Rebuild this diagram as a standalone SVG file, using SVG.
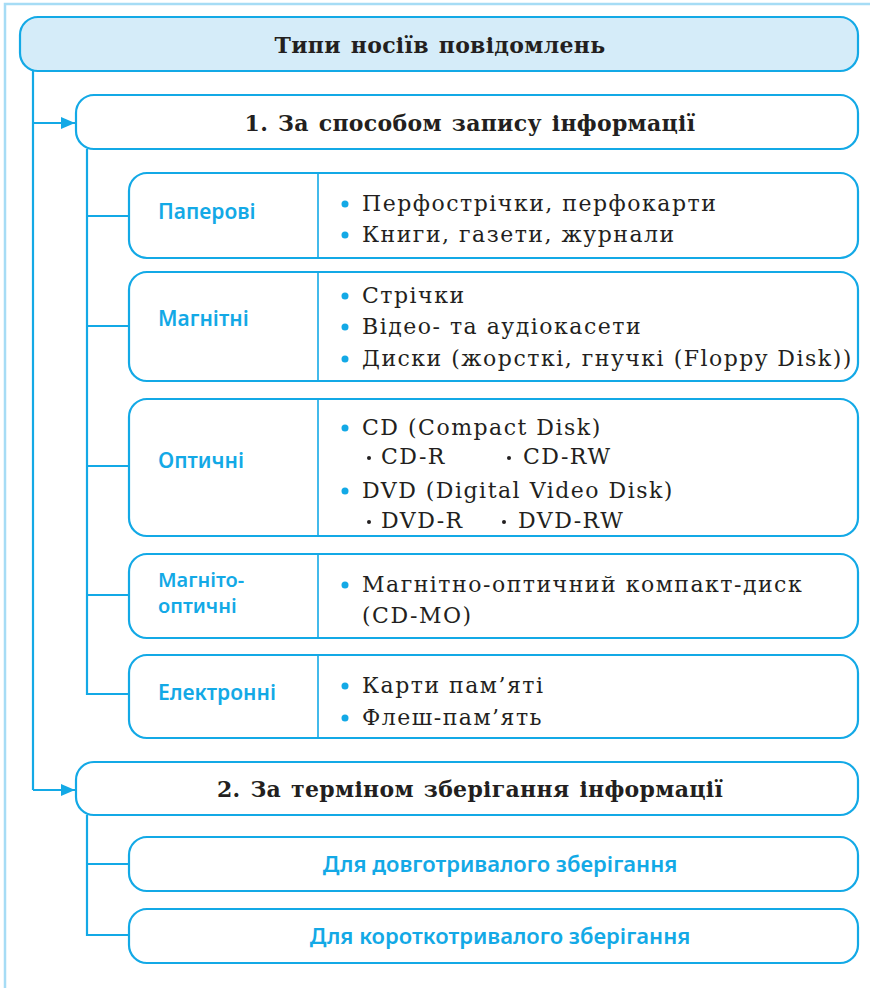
<svg xmlns="http://www.w3.org/2000/svg" width="870" height="988" viewBox="0 0 870 988">
<defs>
<style>
.box{fill:#ffffff;stroke:#13a9e6;stroke-width:2.2}
.head{fill:#d5ecf9;stroke:#13a9e6;stroke-width:2.2}
.div{stroke:#13a9e6;stroke-width:1.6}
.conn{fill:none;stroke:#13a9e6;stroke-width:2.2}
.frame{fill:none;stroke:#a6dcf5;stroke-width:2.5}
.t{font-family:"DejaVu Serif","Liberation Serif",serif;font-size:22px;letter-spacing:1.5px;fill:#231f20}
.h{font-family:"DejaVu Serif","Liberation Serif",serif;font-size:22px;font-weight:bold;letter-spacing:0.3px;word-spacing:2px;fill:#231f20;text-anchor:middle}
.l{font-family:"Noto Sans","Open Sans",sans-serif;font-size:21px;font-weight:600;fill:#13a9e6}
.l2{font-family:"Noto Sans","Open Sans",sans-serif;font-size:20px;font-weight:600;fill:#13a9e6}
.c{font-family:"Noto Sans","Open Sans",sans-serif;font-size:22px;font-weight:600;fill:#13a9e6;text-anchor:middle}
.b{fill:#13a9e6}
.s{fill:#231f20}
</style>
<marker id="ah" viewBox="0 0 14 12" refX="14" refY="6" markerWidth="14" markerHeight="12" orient="auto" markerUnits="userSpaceOnUse">
<path d="M0,0 L14,6 L0,12 z" fill="#13a9e6"/>
</marker>
</defs>
<rect width="870" height="988" fill="#ffffff"/>
<path class="frame" d="M5,988 V4 H870"/>

<g id="connectors">
<path class="conn" d="M33,71 V790"/>
<path class="conn" d="M33,123 H75" marker-end="url(#ah)"/>
<path class="conn" d="M33,790 H75" marker-end="url(#ah)"/>
<path class="conn" d="M87,149 V694 H129"/>
<path class="conn" d="M87,216 H129"/>
<path class="conn" d="M87,326 H129"/>
<path class="conn" d="M87,466 H129"/>
<path class="conn" d="M87,595 H129"/>
<path class="conn" d="M87,815 V935 H129"/>
<path class="conn" d="M87,864 H129"/>
</g>

<g id="title">
<rect class="head" x="20" y="17" width="838" height="54" rx="18"/>
<text class="h" x="440" y="53">Типи носіїв повідомлень</text>
</g>

<g id="group1">
<rect class="box" x="76" y="95" width="782" height="54" rx="18"/>
<text class="h" x="470" y="131">1. За способом запису інформації</text>
</g>

<g id="paper">
<rect class="box" x="129" y="173" width="729" height="85" rx="18"/>
<line class="div" x1="318" y1="173" x2="318" y2="258"/>
<text class="l" x="158" y="219">Паперові</text>
<circle class="b" cx="345" cy="204" r="3.5"/>
<text class="t" x="362" y="211">Перфострічки, перфокарти</text>
<circle class="b" cx="345" cy="235" r="3.5"/>
<text class="t" x="362" y="242">Книги, газети, журнали</text>
</g>

<g id="magnetic">
<rect class="box" x="129" y="272" width="729" height="109" rx="18"/>
<line class="div" x1="318" y1="272" x2="318" y2="381"/>
<text class="l" x="158" y="326">Магнітні</text>
<circle class="b" cx="345" cy="296" r="3.5"/>
<text class="t" x="362" y="303">Стрічки</text>
<circle class="b" cx="345" cy="327" r="3.5"/>
<text class="t" x="362" y="334">Відео- та аудіокасети</text>
<circle class="b" cx="345" cy="359" r="3.5"/>
<text class="t" x="362" y="366">Диски (жорсткі, гнучкі (Floppy Disk))</text>
</g>

<g id="optical">
<rect class="box" x="129" y="399" width="729" height="137" rx="18"/>
<line class="div" x1="318" y1="399" x2="318" y2="536"/>
<text class="l" x="158" y="468">Оптичні</text>
<circle class="b" cx="345" cy="428" r="3.5"/>
<text class="t" x="362" y="435">CD (Compact Disk)</text>
<circle class="s" cx="369" cy="458" r="2"/>
<text class="t" x="381" y="464">CD-R</text>
<circle class="s" cx="509" cy="458" r="2"/>
<text class="t" x="523" y="464">CD-RW</text>
<circle class="b" cx="345" cy="491" r="3.5"/>
<text class="t" x="362" y="498">DVD (Digital Video Disk)</text>
<circle class="s" cx="369" cy="522" r="2"/>
<text class="t" x="381" y="528">DVD-R</text>
<circle class="s" cx="504" cy="522" r="2"/>
<text class="t" x="518" y="528">DVD-RW</text>
</g>

<g id="magneto-optical">
<rect class="box" x="129" y="554" width="729" height="84" rx="18"/>
<line class="div" x1="318" y1="554" x2="318" y2="638"/>
<text class="l2" x="158" y="587">Магніто-</text>
<text class="l2" x="158" y="613">оптичні</text>
<circle class="b" cx="345" cy="585" r="3.5"/>
<text class="t" x="362" y="592">Магнітно-оптичний компакт-диск</text>
<text class="t" x="362" y="623">(CD-MO)</text>
</g>

<g id="electronic">
<rect class="box" x="129" y="655" width="729" height="83" rx="18"/>
<line class="div" x1="318" y1="655" x2="318" y2="738"/>
<text class="l" x="158" y="700">Електронні</text>
<circle class="b" cx="345" cy="686" r="3.5"/>
<text class="t" x="362" y="693">Карти пам’яті</text>
<circle class="b" cx="345" cy="718" r="3.5"/>
<text class="t" x="362" y="725">Флеш-пам’ять</text>
</g>

<g id="group2">
<rect class="box" x="76" y="762" width="782" height="53" rx="18"/>
<text class="h" x="470" y="797">2. За терміном зберігання інформації</text>
</g>

<g id="long-term">
<rect class="box" x="129" y="837" width="729" height="54" rx="18"/>
<text class="c" x="500" y="872">Для довготривалого зберігання</text>
</g>

<g id="short-term">
<rect class="box" x="129" y="909" width="729" height="54" rx="18"/>
<text class="c" x="500" y="944">Для короткотривалого зберігання</text>
</g>
</svg>
